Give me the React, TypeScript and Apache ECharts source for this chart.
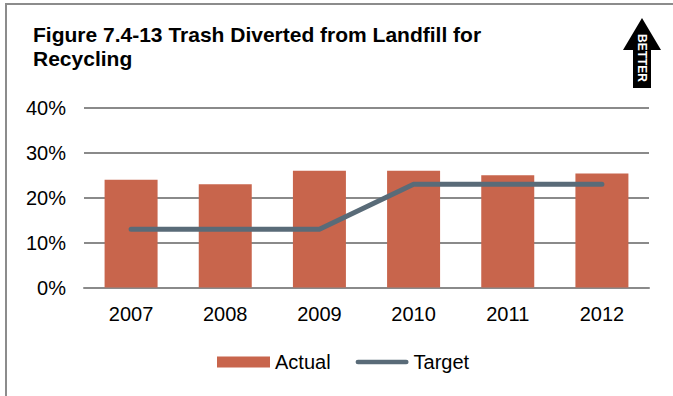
import React, { useEffect, useRef } from "react";
import * as echarts from "echarts";

const categories = ["2007", "2008", "2009", "2010", "2011", "2012"];
const actual = [24, 23, 26, 26, 25, 25.4];
const target = [13, 13, 13, 23, 23, 23];
const yTicks = [0, 10, 20, 30, 40];

const FONT = "'Liberation Sans', Arial, sans-serif";

export default function App() {
  const ref = useRef<HTMLDivElement>(null);
  useEffect(() => {
    if (!ref.current) return;
    const chart = echarts.init(ref.current, null, { renderer: "svg" });
    chart.setOption({
      animation: false,
      backgroundColor: "#ffffff",
      textStyle: { fontFamily: FONT },
      grid: { left: 84, right: 24, top: 108, bottom: 108.5, outerBoundsMode: "none" },
      xAxis: {
        type: "category",
        data: categories,
        axisTick: { show: false },
        axisLine: { lineStyle: { color: "#8a8a8a", width: 2 } },
        axisLabel: { color: "#000", fontSize: 20, fontFamily: FONT, margin: 16 },
      },
      yAxis: {
        type: "value",
        min: yTicks[0],
        max: yTicks[yTicks.length - 1],
        interval: 10,
        axisLine: { show: false },
        axisTick: { show: false },
        splitLine: { lineStyle: { color: "#8a8a8a", width: 2 } },
        axisLabel: { color: "#000", fontSize: 20, fontFamily: FONT, margin: 18, formatter: "{value}%" },
      },
      legend: {
        bottom: 19,
        left: 212,
        itemWidth: 53,
        itemHeight: 11,
        itemGap: 25,
        textStyle: { color: "#000", fontSize: 20, fontFamily: FONT },
        data: [
          { name: "Actual", icon: "rect" },
          {
            name: "Target",
            icon: "path://M2.5,0 L53.5,0 A2.5,2.5 0 0 1 53.5,5 L2.5,5 A2.5,2.5 0 0 1 2.5,0 Z",
            itemStyle: { color: "#596b78" },
          },
        ],
      },
      series: [
        {
          name: "Actual",
          type: "bar",
          data: actual,
          barWidth: 53,
          itemStyle: { color: "#c8654c" },
        },
        {
          name: "Target",
          type: "line",
          data: target,
          symbol: "none",
          lineStyle: { color: "#596b78", width: 5, cap: "round", join: "round" },
          itemStyle: { color: "#596b78" },
        },
      ],
      graphic: [
        {
          type: "rect",
          shape: { x: 6, y: 4, width: 800, height: 500 },
          style: { fill: "none", stroke: "#8c8c8c", lineWidth: 2 },
          silent: true,
        },
        {
          type: "text",
          left: 33,
          top: 22,
          style: {
            text: "Figure 7.4-13 Trash Diverted from Landfill for\nRecycling",
            font: `bold 21px ${FONT}`,
            fill: "#000",
            lineHeight: 24,
          },
        },
        {
          type: "polygon",
          shape: {
            points: [
              [642, 18],
              [661, 50],
              [651, 50],
              [651, 88],
              [633, 88],
              [633, 50],
              [623, 50],
            ],
          },
          style: { fill: "#000" },
        },
        {
          type: "text",
          x: 642,
          y: 58,
          rotation: -Math.PI / 2,
          style: {
            text: "BETTER",
            font: `bold 12px ${FONT}`,
            fill: "#fff",
            align: "center",
            verticalAlign: "middle",
          },
        },
      ],
    });
    return () => chart.dispose();
  }, []);
  return (
    <div
      ref={ref}
      style={{ position: "fixed", left: 0, top: 0, width: 673, height: 396 }}
    />
  );
}
